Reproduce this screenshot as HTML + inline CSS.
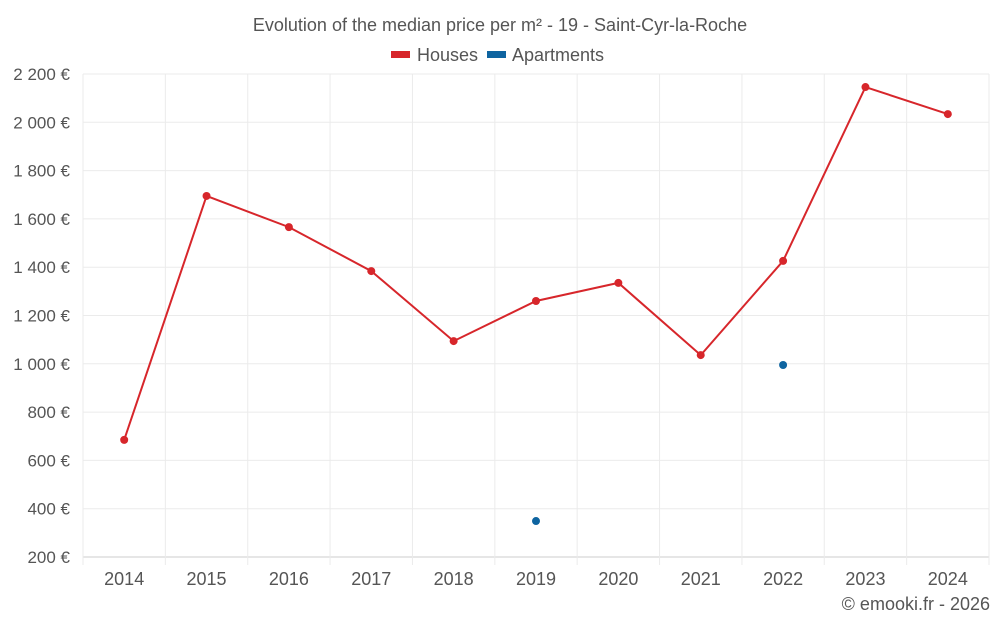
<!DOCTYPE html>
<html><head><meta charset="utf-8"><style>
body{margin:0;background:#fff;font-family:"Liberation Sans",sans-serif;}
svg text{font-family:"Liberation Sans",sans-serif;fill:#555;}
</style></head><body>
<svg id="chart" width="1000" height="625">
<text x="500" y="31" text-anchor="middle" font-size="18">Evolution of the median price per m² - 19 - Saint-Cyr-la-Roche</text>
<g>
<rect x="391" y="51" width="19" height="7" fill="#d7262b"/>
<text x="417" y="61" font-size="18">Houses</text>
<rect x="487" y="51" width="19" height="7" fill="#0e64a0"/>
<text x="512" y="61" font-size="18">Apartments</text>
</g>
<g id="grid"></g><g id="axes"></g><g id="marks"></g>
<text x="990" y="610" text-anchor="end" font-size="18">© emooki.fr - 2026</text>
</svg>
<script>
const years=[2014,2015,2016,2017,2018,2019,2020,2021,2022,2023,2024];
const houses=[685,1695,1566,1384,1094,1260,1335,1036,1426,2146,2034];
const apartments=[null,null,null,null,null,349,null,null,995,null,null];
const yTicks=[200,400,600,800,1000,1200,1400,1600,1800,2000,2200];
const L=83,R=989,T=74,B=557,yMin=200,yMax=2200;
const bw=(R-L)/years.length;
const x=i=>L+bw*(i+0.5);
const y=v=>B-(v-yMin)/(yMax-yMin)*(B-T);
const NS="http://www.w3.org/2000/svg";
function mk(tag,attrs,parent){const e=document.createElementNS(NS,tag);for(const k in attrs)e.setAttribute(k,attrs[k]);document.getElementById(parent).appendChild(e);return e;}
const fmt=v=>String(v).replace(/\B(?=(\d{3})+(?!\d))/g," ")+" €";
yTicks.forEach(v=>{
 const g=mk('line',{x1:L,x2:R,y1:y(v),y2:y(v),stroke:v===yMin?'#ccc':'#ebebeb'},'grid');
 
 
 const t=mk('text',{x:70,y:y(v)+6,'text-anchor':'end','font-size':17},'axes');t.textContent=fmt(v);
 
 
});
for(let i=0;i<=years.length;i++){
 const g=mk('line',{x1:L+bw*i,x2:L+bw*i,y1:T,y2:B+8,stroke:'#ebebeb'},'grid');
 
 
}
years.forEach((yr,i)=>{
 const t=mk('text',{x:x(i),y:585,'text-anchor':'middle','font-size':18},'axes');t.textContent=yr;
 
 
});
const p=mk('polyline',{points:houses.map((v,i)=>x(i)+','+y(v)).join(' '),fill:'none',stroke:'#d7262b','stroke-width':2},'marks');


houses.forEach((v,i)=>{
 const c=mk('circle',{cx:x(i),cy:y(v),r:4,fill:'#d7262b'},'marks');
 
 
});
apartments.forEach((v,i)=>{
 if(v==null)return;
 const c=mk('circle',{cx:x(i),cy:y(v),r:4,fill:'#0e64a0'},'marks');
 
 
});
</script>
</body></html>
